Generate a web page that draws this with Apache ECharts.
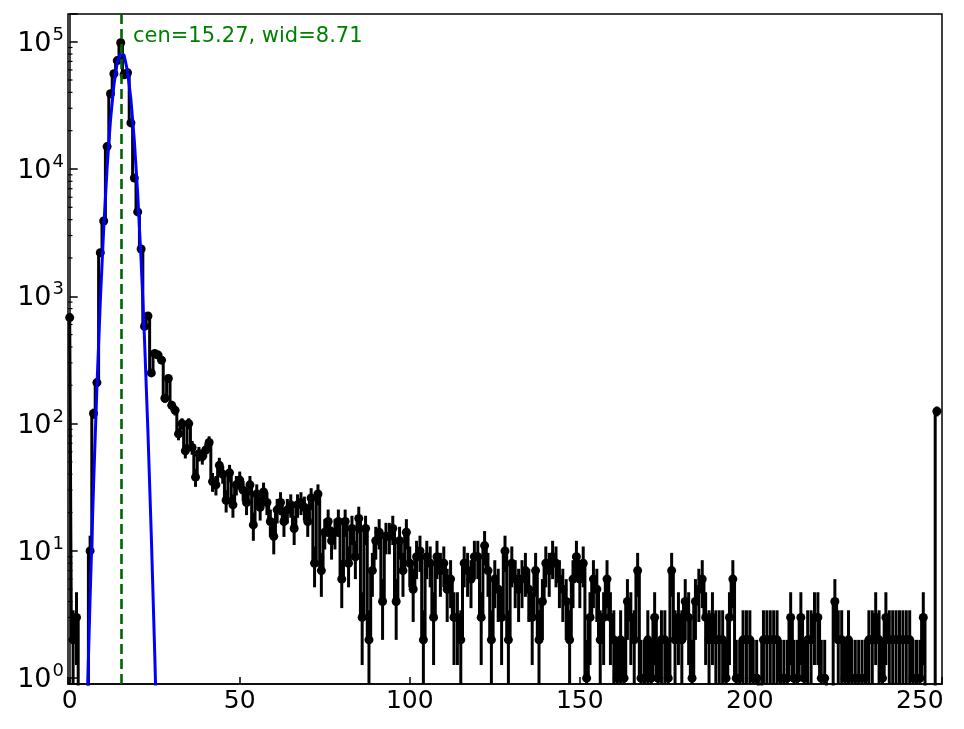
<!DOCTYPE html>
<html>
<head>
<meta charset="utf-8">
<script src="https://cdn.jsdelivr.net/npm/echarts@6/dist/echarts.min.js"></script>
<style>
  html, body { margin: 0; padding: 0; background: #fff; }
  #chart { width: 964px; height: 729px; }
</style>
</head>
<body>
<div id="chart"></div>
<script>
// Histogram counts, one per bin (bin centre = index 0..255)
var counts = [
    680, 2, 3, 0, 0, 0, 10, 120, 210, 2200,
    3900, 15000, 39000, 56000, 71000, 98000, 55000, 57000, 23000, 8500,
    4600, 2350, 580, 700, 250, 355, 345, 315, 158, 226,
    139, 127, 83, 100, 61, 100, 65, 38, 58, 55,
    62, 71, 35, 33, 47, 40, 25, 41, 23, 33,
    36, 30, 24, 33, 16, 28, 22, 29, 24, 17,
    13, 21, 24, 17, 21, 23, 15, 23, 24, 22,
    17, 26, 8, 28, 7, 14, 17, 12, 14, 17,
    6, 17, 8, 15, 9, 18, 3, 15, 2, 7,
    12, 14, 4, 13, 13, 15, 4, 12, 7, 14,
    8, 5, 9, 10, 2, 9, 8, 3, 9, 7,
    8, 5, 6, 3, 3, 2, 8, 7, 6, 9,
    9, 3, 11, 7, 2, 6, 5, 3, 10, 2,
    8, 6, 5, 6, 7, 5, 3, 7, 2, 4,
    8, 7, 9, 8, 6, 5, 4, 2, 6, 9,
    6, 8, 1, 3, 6, 5, 2, 3, 6, 3,
    2, 1, 2, 1, 4, 3, 2, 7, 1, 1,
    2, 1, 3, 1, 2, 2, 1, 7, 2, 3,
    2, 4, 3, 1, 4, 5, 6, 3, 2, 3,
    2, 2, 2, 1, 3, 6, 1, 1, 2, 2,
    2, 1, 1, 0, 2, 2, 2, 2, 2, 1,
    1, 1, 3, 1, 1, 3, 1, 2, 2, 3,
    3, 1, 1, 0, 0, 4, 2, 2, 1, 2,
    1, 1, 1, 1, 1, 2, 2, 3, 2, 1,
    3, 2, 2, 2, 2, 2, 2, 2, 1, 1,
    1, 3, 0, 0, 0, 125
];

// Gaussian best fit at x = 4..27
var fitStart = 4;
var fitValues = [
    0.038, 0.46, 4.3, 32, 192, 910, 3420, 10230, 24300, 45900,
    69000, 82300, 78100, 58900, 35300, 16800, 6360, 1910, 458, 87,
    13.1, 1.58, 0.15, 0.011
];

var FIT_CEN = 15.27;
var FIT_WID = 8.71;

var X_MIN = -0.5, X_MAX = 256.5;
var Y_MIN = 0.9, Y_MAX = 165000;
var FONT = 'DejaVu Sans';

// zero bins drop off the bottom of the log axis, like matplotlib's clip
var ZERO_FLOOR = 1e-3;

var stepData = counts.map(function (c, i) { return [i, c > 0 ? c : ZERO_FLOOR]; });
var errData = [];
counts.forEach(function (c, i) {
    if (c > 0) {
        var e = Math.sqrt(c);
        errData.push([i, Math.max(c - e, ZERO_FLOOR), c + e]);
    }
});
var fitData = fitValues.map(function (v, i) { return [fitStart + i, v]; });

// minor log ticks at 2..9 x 10^k inside the axis range
var minorTickData = [];
for (var k = 0; k <= 5; k++) {
    for (var m = 2; m <= 9; m++) {
        var v = m * Math.pow(10, k);
        if (v > Y_MIN && v < Y_MAX) minorTickData.push([X_MIN, v]);
    }
}

var chart = echarts.init(document.getElementById('chart'), null, { renderer: 'canvas' });

var option = {
    animation: false,
    backgroundColor: '#fff',
    textStyle: { fontFamily: FONT },
    grid: {
        left: 68, right: 22, top: 14, bottom: 45,
        show: true, borderColor: '#000', borderWidth: 1.5,
        containLabel: false
    },
    xAxis: {
        type: 'value',
        min: X_MIN, max: X_MAX,
        axisLine: { show: true, onZero: false, lineStyle: { color: '#000', width: 1.5 } },
        axisTick: { inside: true, length: 7, lineStyle: { color: '#000', width: 1.5 } },
        splitLine: { show: false },
        axisLabel: {
            margin: 5,
            color: '#000',
            fontSize: 25,
            fontFamily: FONT,
            formatter: function (v) { return v % 50 === 0 ? String(v) : ''; }
        }
    },
    yAxis: {
        type: 'log',
        logBase: 10,
        min: Y_MIN, max: Y_MAX,
        axisLine: { show: true, lineStyle: { color: '#000', width: 1.5 } },
        axisTick: { inside: true, length: 8, lineStyle: { color: '#000', width: 1.5 } },
        splitLine: { show: false },
        axisLabel: {
            margin: 4,
            color: '#000',
            formatter: function (v) {
                var e = Math.log10(v);
                var r = Math.round(e);
                if (Math.abs(e - r) > 1e-6) return '';
                return '{b|10}{s|' + r + '}';
            },
            rich: {
                b: { fontSize: 27, fontFamily: FONT, color: '#000', padding: [4, 0, 0, 0] },
                s: { fontSize: 18, fontFamily: FONT, color: '#000', verticalAlign: 'top', padding: [0, 0, 6, 1] }
            }
        }
    },
    graphic: [{
        type: 'text',
        left: 133,
        top: 26,
        style: {
            text: 'cen=' + FIT_CEN.toFixed(2) + ', wid=' + FIT_WID.toFixed(2),
            fill: '#008000',
            font: '21px "' + FONT + '"'
        }
    }],
    series: [
        {
            // histogram as mid-step line with markers
            type: 'line',
            step: 'middle',
            data: stepData,
            showAllSymbol: true,
            symbol: function (val) { return val[1] >= 1 ? 'circle' : 'none'; },
            symbolSize: 9,
            itemStyle: { color: '#000' },
            lineStyle: { color: '#000', width: 3 },
            clip: true,
            z: 2
        },
        {
            // sqrt(N) error bars
            type: 'custom',
            data: errData,
            encode: { x: 0, y: [1, 2] },
            clip: true,
            z: 2,
            renderItem: function (params, api) {
                var lo = api.coord([api.value(0), api.value(1)]);
                var hi = api.coord([api.value(0), api.value(2)]);
                var cs = params.coordSys;
                var yBottom = cs.y + cs.height;
                return {
                    type: 'line',
                    shape: { x1: lo[0], y1: Math.min(lo[1], yBottom), x2: hi[0], y2: Math.max(hi[1], cs.y) },
                    style: { stroke: '#000', lineWidth: 3 }
                };
            }
        },
        {
            // best fit curve + centre marker
            type: 'line',
            data: fitData,
            symbol: 'none',
            lineStyle: { color: '#0000ff', width: 3 },
            clip: true,
            z: 3,
            markLine: {
                silent: true,
                symbol: ['none', 'none'],
                label: { show: false },
                lineStyle: { color: '#006400', width: 2.6, type: [10, 5] },
                data: [{ xAxis: FIT_CEN }]
            }
        },
        {
            // minor ticks on the log axis
            type: 'custom',
            data: minorTickData,
            silent: true,
            z: 5,
            renderItem: function (params, api) {
                var p = api.coord([api.value(0), api.value(1)]);
                return {
                    type: 'line',
                    shape: { x1: p[0], y1: p[1], x2: p[0] + 4.5, y2: p[1] },
                    style: { stroke: '#000', lineWidth: 1.2 }
                };
            }
        }
    ]
};

chart.setOption(option);

window.addEventListener('resize', function () {
    chart.resize();
});
</script>
</body>
</html>
